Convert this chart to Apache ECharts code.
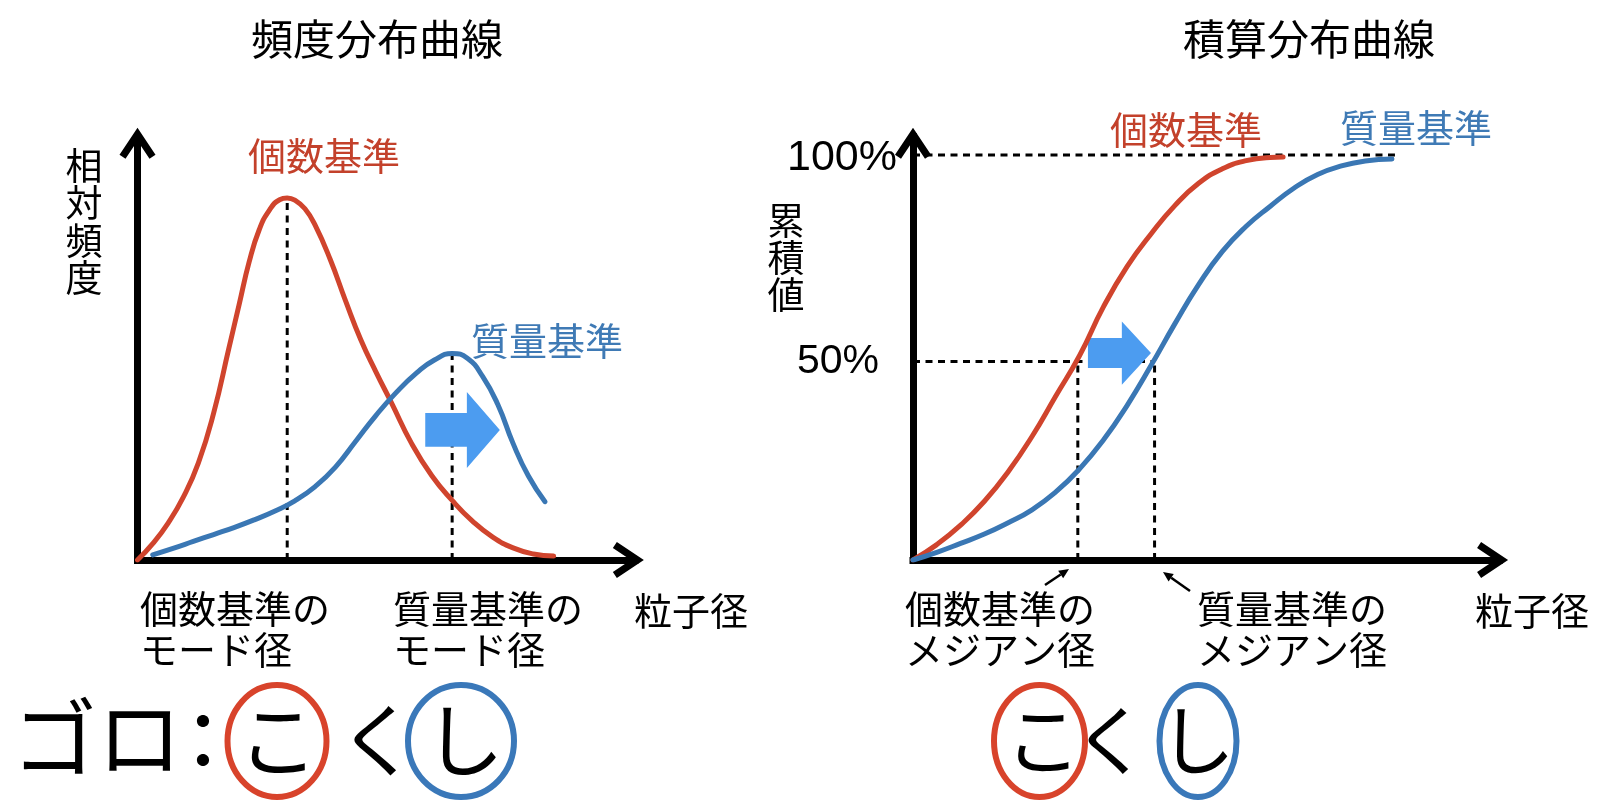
<!DOCTYPE html>
<html>
<head>
<meta charset="utf-8">
<script src="https://cdn.jsdelivr.net/npm/echarts@6/dist/echarts.min.js"></script>
<style>html,body{margin:0;padding:0;background:#fff}#c{width:1600px;height:802px}</style>
</head>
<body>
<div id="c"></div>
<script>
// ---------------- DATA ----------------
// 頻度分布曲線 (relative frequency vs particle size)
const freqNumber = [[0,0],[3,3.8],[6,8.5],[9,14.5],[12,22.5],[15,34],[18,49],[20,59],[22,69],[24,76.5],[26,81],[28,83.4],[29.5,83.8],[31,83.3],[33,81.3],[35,77.5],[38,69.5],[41,60],[44,51],[47,43.5],[50,36.5],[54,27],[58,19.5],[62,13.8],[66,9],[70,5.3],[74,2.8],[78,1.4],[82,0.9]];
const freqMass   = [[3,1.2],[7,2.7],[11,4.3],[15,5.9],[19,7.5],[23,9.3],[27,11.3],[31,13.7],[35,17],[39,21.5],[43,27.5],[47,33.5],[51,38.8],[55,43.3],[58.5,46.3],[62,47.8],[65,46.7],[68,42.5],[71,36],[74,27],[77,19.5],[80.3,13.5]];
// 積算分布曲線 (cumulative %, vs particle size)
const cumNumber  = [[0,0],[4,3.8],[8,8.6],[12,14.5],[16,21.8],[20,30.5],[24,40.5],[28,50.5],[32,62.5],[36,72.5],[40,80.5],[44,87.5],[48,93],[52,96.6],[56,98.6],[60,99.4],[62.2,99.5]];
const cumMass    = [[0,0],[4,1.9],[8,4.1],[12,6.4],[16,9.2],[20,12.4],[24,16.8],[28,22.5],[32,29.6],[36,38.2],[40,48],[44,58.3],[48,68],[52,76.2],[56,82.4],[60,87.3],[64,91.8],[68,95.2],[72,97.3],[76,98.5],[80.5,99]];
// guide (dashed) lines: [x1, y1, x2, y2]
const freqGuides = [[29.5,0,29.5,83.8],[62,0,62,47.8]];
const cumGuides  = [[0,100,81,100],[0,49,40.6,49],[27.7,0,27.7,49],[40.6,0,40.6,49]];
// block arrows: [bodyStartX, headStartX, tipX, midY, bodyHalfHeight, headHalfHeight]
const freqShift = [[56.7,64.9,71.4,30.1,3.9,8.8]];
const cumShift  = [[29.4,35.1,40.0,51.1,3.7,7.8]];
// axis ranges
const freqXMax = 98, freqYMax = 98, cumXMax = 98.5, cumYMax = 104.5;
// texts
const titles = ['頻度分布曲線', '積算分布曲線'];
const yNames = ['相対頻度', '累積値'];
const seriesNames = ['個数基準', '質量基準'];
const refLabels = ['100%', '50%'];
const xName = '粒子径';
const freqTickLabels = ['個数基準の\nモード径', '質量基準の\nモード径'];
const cumTickLabels = ['個数基準の\nメジアン径', '質量基準の\nメジアン径'];
const mnemonic = ['ゴロ', '：', 'こ', 'く', 'し'];

// ---------------- STYLE ----------------
const JP = '"Noto Sans CJK JP", "Noto Sans CJK SC", sans-serif';
const LAT = '"Liberation Sans", Arial, sans-serif';
const RED = '#D0442D', BLUE = '#3A77B4', RED_T = '#C3412B', BLUE_T = '#3F7AB5', SHIFT = '#4C9CF0';
const CHEV = 'path://M18,0 L36,27 L30,31 L18,13 L6,31 L0,27 Z';

function axis(idx, max) {
  return {
    type: 'value', gridIndex: idx, min: 0, max: max,
    axisLine: { show: true, onZero: false, symbol: ['none', CHEV], symbolSize: [36, 31], symbolOffset: [0, -6.5],
      lineStyle: { color: '#000', width: 7, cap: 'square' } },
    axisTick: { show: false }, axisLabel: { show: false }, splitLine: { show: false }
  };
}
function curve(data, color, idx) {
  return { type: 'line', xAxisIndex: idx, yAxisIndex: idx, data: data, smooth: 0.5, symbol: 'none', z: 5,
    lineStyle: { color: color, width: 5, cap: 'round', join: 'round' }, silent: true };
}
function guides(list, idx) {
  return list.map(g => ({ type: 'line', xAxisIndex: idx, yAxisIndex: idx, data: [[g[0], g[1]], [g[2], g[3]]],
    symbol: 'none', z: 2, silent: true, lineStyle: { color: '#000', width: 3, type: [7, 5.5] } }));
}
function shift(list, idx) {
  return { type: 'custom', xAxisIndex: idx, yAxisIndex: idx, data: list, z: 4, silent: true,
    renderItem: function (params, api) {
      const x0 = api.value(0), x1 = api.value(1), x2 = api.value(2), ym = api.value(3), bh = api.value(4), hh = api.value(5);
      const pts = [[x0, ym + bh], [x1, ym + bh], [x1, ym + hh], [x2, ym], [x1, ym - hh], [x1, ym - bh], [x0, ym - bh]].map(p => api.coord(p));
      return { type: 'polygon', shape: { points: pts }, style: { fill: SHIFT } };
    } };
}
function txt(text, x, y, size, color, align, extra) {
  const a = align || 'center';
  return { type: 'text', z: 100, silent: true, style: Object.assign({ text: text, x: x, y: y, fill: color || '#000',
    fontSize: size, fontFamily: JP, textAlign: a, align: a, textVerticalAlign: 'middle', verticalAlign: 'middle' }, extra || {}) };
}
function ring(cx, cy, rx, ry, color) {
  return { type: 'ellipse', z: 100, silent: true, shape: { cx: cx, cy: cy, rx: rx, ry: ry }, style: { fill: 'none', stroke: color, lineWidth: 6 } };
}
function pointer(x1, y1, x2, y2) {
  const dx = x2 - x1, dy = y2 - y1, L = Math.hypot(dx, dy), ux = dx / L, uy = dy / L, hl = 10, hw = 4.5;
  const bx = x2 - ux * hl, by = y2 - uy * hl;
  return [
    { type: 'line', z: 100, silent: true, shape: { x1: x1, y1: y1, x2: bx, y2: by }, style: { stroke: '#000', lineWidth: 2.5 } },
    { type: 'polygon', z: 100, silent: true, shape: { points: [[x2, y2], [bx - uy * hw, by + ux * hw], [bx + uy * hw, by - ux * hw]] }, style: { fill: '#000' } }
  ];
}

const lpx = 5.075, lpy = 4.32, rpx = 5.95, rpy = 4.05;
const option = {
  animation: false,
  backgroundColor: '#fff',
  grid: [
    { left: 137.5, top: 560 - freqYMax * lpy, width: freqXMax * lpx, height: freqYMax * lpy, outerBoundsMode: 'none' },
    { left: 913, top: 560 - cumYMax * rpy, width: cumXMax * rpx, height: cumYMax * rpy, outerBoundsMode: 'none' }
  ],
  xAxis: [axis(0, freqXMax), axis(1, cumXMax)],
  yAxis: [axis(0, freqYMax), axis(1, cumYMax)],
  series: [].concat(
    guides(freqGuides, 0), guides(cumGuides, 1),
    [shift(freqShift, 0), shift(cumShift, 1),
     curve(freqNumber, RED, 0), curve(freqMass, BLUE, 0),
     curve(cumNumber, RED, 1), curve(cumMass, BLUE, 1)]
  ),
  graphic: [].concat([
    txt(titles[0], 377, 39, 42),
    txt(titles[1], 1309, 39, 42),
    txt(yNames[0].split('').join('\n'), 84, 222, 37, '#000', 'center', { lineHeight: 37.5 }),
    txt(yNames[1].split('').join('\n'), 786, 258, 37, '#000', 'center', { lineHeight: 37 }),
    txt(seriesNames[0], 324, 156, 38, RED_T),
    txt(seriesNames[1], 547, 341, 38, BLUE_T),
    txt(seriesNames[0], 1186, 130, 38, RED_T),
    txt(seriesNames[1], 1416, 128, 38, BLUE_T),
    txt(refLabels[0], 842, 158, 43, '#000', 'center', { fontFamily: LAT }),
    txt(refLabels[1], 838, 362, 41, '#000', 'center', { fontFamily: LAT }),
    txt(freqTickLabels[0], 140, 629, 38, '#000', 'left', { lineHeight: 41 }),
    txt(freqTickLabels[1], 393, 629, 38, '#000', 'left', { lineHeight: 41 }),
    txt(xName, 634, 611, 38, '#000', 'left'),
    txt(cumTickLabels[0], 905, 629, 38, '#000', 'left', { lineHeight: 41 }),
    txt(cumTickLabels[1], 1197, 629, 38, '#000', 'left', { lineHeight: 41 }),
    txt(xName, 1475, 611, 38, '#000', 'left'),
    txt(mnemonic[0], 12, 738, 85, '#000', 'left'),
    txt(mnemonic[1], 203, 740, 80),
    txt(mnemonic[2], 278, 740, 80),
    txt(mnemonic[3], 378, 740, 80),
    txt(mnemonic[4], 464, 740, 80),
    ring(277, 741, 49.5, 56, '#D8432B'),
    ring(461, 741, 53, 56, '#3A78B9'),
    txt(mnemonic[2], 1043, 740, 76),
    txt(mnemonic[3], 1111, 740, 76),
    txt(mnemonic[4], 1197, 740, 76),
    ring(1039.5, 741, 45.5, 56, '#D8432B'),
    ring(1198, 741, 38.5, 56, '#3A78B9')
  ], pointer(1045, 585, 1069, 569), pointer(1190, 591, 1163, 572))
};

const chart = echarts.init(document.getElementById('c'), null, { renderer: 'canvas', width: 1600, height: 802 });
chart.setOption(option);
</script>
</body>
</html>
